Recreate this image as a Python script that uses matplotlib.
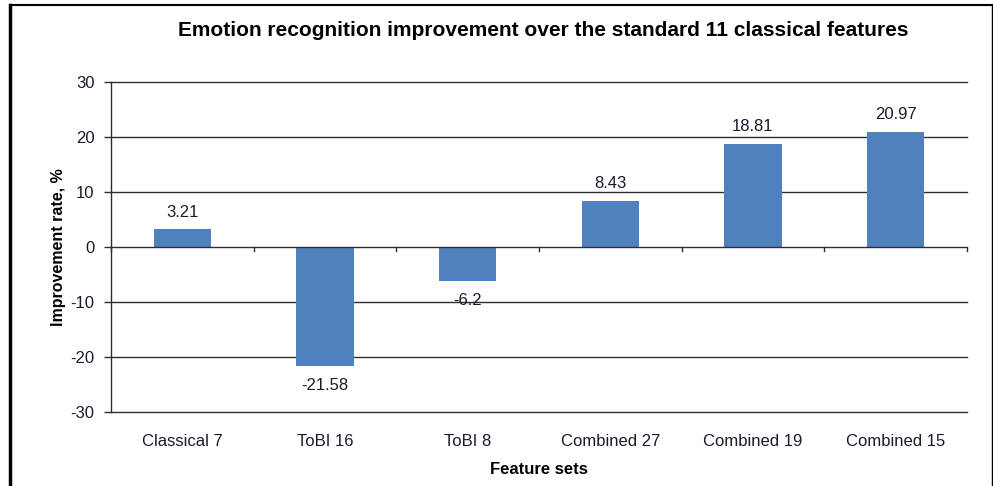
import matplotlib.pyplot as plt
from matplotlib.lines import Line2D
import numpy as np

plt.rcParams['font.family'] = ['Liberation Sans', 'DejaVu Sans']

feature_sets = ['Classical 7', 'ToBI 16', 'ToBI 8', 'Combined 27', 'Combined 19', 'Combined 15']
improvement = [3.21, -21.58, -6.2, 8.43, 18.81, 20.97]
value_labels = ['3.21', '-21.58', '-6.2', '8.43', '18.81', '20.97']
y_ticks = [30, 20, 10, 0, -10, -20, -30]

bar_color = '#4F81BD'
line_color = '#2e2e2e'
text_color = '#1a1a2e'

fig = plt.figure(figsize=(9.93, 4.86), dpi=100)
ax = fig.add_axes([111 / 993, 1 - 412 / 486, (967 - 111) / 993, (412 - 82) / 486])

x = np.arange(len(feature_sets))
ax.bar(x, improvement, width=0.4, color=bar_color, zorder=3)

for xi, v, lab in zip(x, improvement, value_labels):
    off = 12 if v >= 0 else -14
    ax.annotate(lab, (xi, v), xytext=(0, off), textcoords='offset points',
                ha='center', va='center', fontsize=12, color=text_color)

ax.set_xlim(-0.5, len(feature_sets) - 0.5)
ax.set_ylim(-30, 30)
ax.set_yticks(y_ticks)
ax.set_yticklabels([str(t) for t in y_ticks], fontsize=12, color=text_color)
for t in y_ticks:
    if t != 0:
        ax.axhline(t, color=line_color, lw=1.0, zorder=1, clip_on=False)

# zero line acting as the category axis, with ticks at category boundaries
ax.axhline(0, color=line_color, lw=1.0, zorder=4)
for b in np.arange(-0.5, len(feature_sets)):
    ax.plot([b, b], [0, -0.8], color=line_color, lw=1.0, zorder=4, clip_on=False)

ax.set_xticks(x)
ax.set_xticklabels(feature_sets, fontsize=12, color=text_color)
ax.tick_params(axis='x', length=0, pad=16)
ax.tick_params(axis='y', length=5, width=1.0, color=line_color, pad=7)

for side in ['top', 'right', 'bottom']:
    ax.spines[side].set_visible(False)
ax.spines['left'].set_color(line_color)
ax.spines['left'].set_linewidth(1.0)

ax.set_ylabel('Improvement rate, %', fontsize=11.5, fontweight='bold', labelpad=3)
ax.set_xlabel('Feature sets', fontsize=12, fontweight='bold', labelpad=9)
fig.text(543 / 993, 1 - 31 / 486, 'Emotion recognition improvement over the standard 11 classical features',
         ha='center', va='center', fontsize=15, fontweight='bold')

# frame around the figure
fig.add_artist(Line2D([10 / 993, 10 / 993], [0, 1 - 5 / 486], transform=fig.transFigure, color='black', lw=2.5))
fig.add_artist(Line2D([10 / 993, 992 / 993], [1 - 5 / 486, 1 - 5 / 486], transform=fig.transFigure, color='black', lw=1.5))
fig.add_artist(Line2D([992 / 993, 992 / 993], [0, 1 - 5 / 486], transform=fig.transFigure, color='black', lw=1.0))

fig.savefig('out.png', dpi=100)
